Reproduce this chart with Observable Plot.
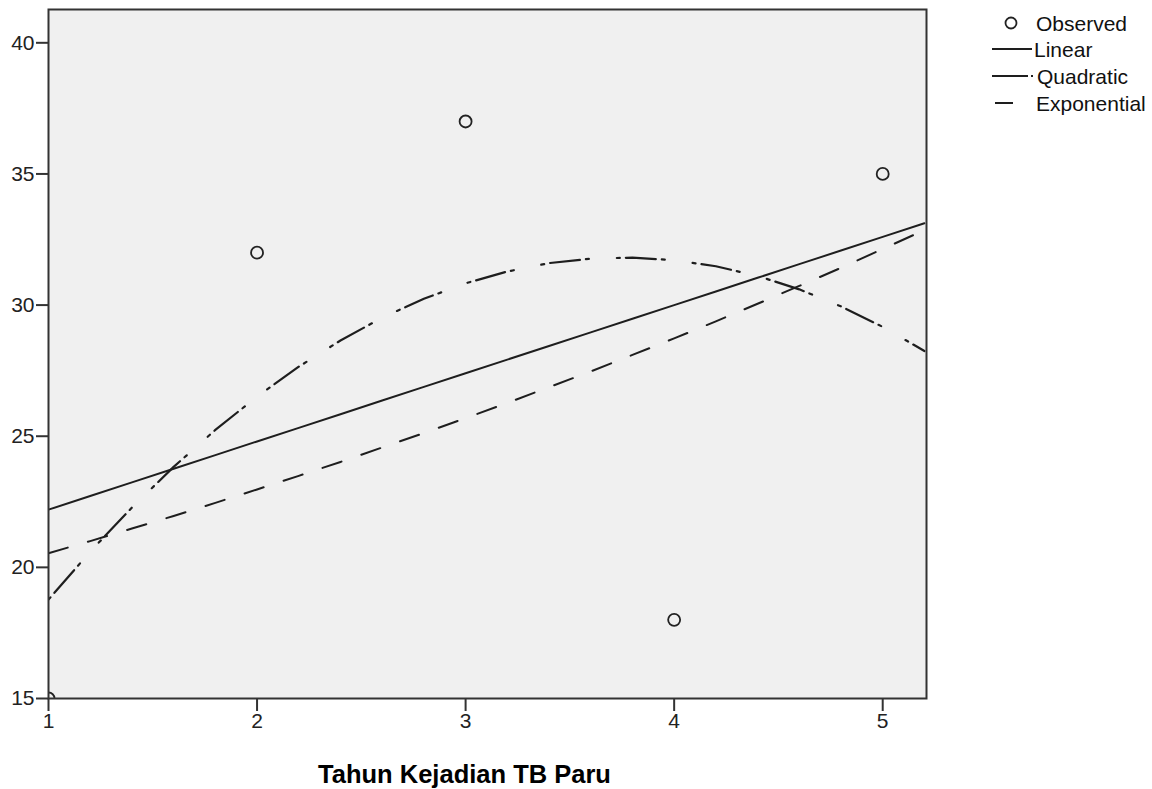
<!DOCTYPE html>
<html>
<head>
<meta charset="utf-8">
<script src="https://cdn.jsdelivr.net/npm/d3@7"></script>
<script src="https://cdn.jsdelivr.net/npm/@observablehq/plot@0.6"></script>
<style>
  html, body { margin: 0; padding: 0; background: #fff; }
  #wrap { position: relative; width: 1152px; height: 789px; }
  #legend { position: absolute; left: 0; top: 0; }
</style>
</head>
<body>
<div id="wrap"></div>
<script>
// Observed data
const xObserved = [1, 2, 3, 4, 5];
const yObserved = [15, 32, 37, 18, 35];

// Fitted curves (values read at x steps of 0.2)
const xFit = [1.0, 1.2, 1.4, 1.6, 1.8, 2.0, 2.2, 2.4, 2.6, 2.8, 3.0, 3.2, 3.4, 3.6, 3.8, 4.0, 4.2, 4.4, 4.6, 4.8, 5.0, 5.2];
const yLinear = [22.2, 22.72, 23.24, 23.76, 24.28, 24.8, 25.32, 25.84, 26.36, 26.88, 27.4, 27.92, 28.44, 28.96, 29.48, 30.0, 30.52, 31.04, 31.56, 32.08, 32.6, 33.12];
const yQuadratic = [18.77, 20.60, 22.28, 23.83, 25.24, 26.51, 27.65, 28.65, 29.52, 30.24, 30.83, 31.28, 31.60, 31.77, 31.81, 31.71, 31.48, 31.11, 30.60, 29.95, 29.17, 28.25];
const yExponential = [20.54, 21.00, 21.48, 21.96, 22.46, 22.97, 23.49, 24.02, 24.57, 25.12, 25.69, 26.27, 26.87, 27.47, 28.10, 28.73, 29.38, 30.05, 30.73, 31.42, 32.14, 32.86];

const xTicks = [1, 2, 3, 4, 5];
const yTicks = [15, 20, 25, 30, 35, 40];
const xTitle = "Tahun Kejadian TB Paru";
const legendLabels = ["Observed", "Linear", "Quadratic", "Exponential"];

const observed = xObserved.map((x, i) => ({x, y: yObserved[i]}));
const fit = xFit.map((x, i) => ({x, lin: yLinear[i], quad: yQuadratic[i], exp: yExponential[i]}));

const ink = "#1e1e1e";

const chart = Plot.plot({
  width: 1152,
  height: 789,
  marginLeft: 48,
  marginRight: 226,
  marginTop: 9,
  marginBottom: 91,
  style: {fontFamily: "'Liberation Sans', Arial, sans-serif", fontSize: "21px", color: "#222", background: "white"},
  x: {domain: [1, 5.21]},
  y: {domain: [15, 41.27]},
  marks: [
    Plot.frame({fill: "#f0f0f0", stroke: null}),
    Plot.line(fit, {x: "x", y: "lin", stroke: ink, strokeWidth: 2, clip: true}),
    Plot.line(fit, {x: "x", y: "quad", stroke: ink, strokeWidth: 2.2, strokeDasharray: "3,6,30,6,3,28", clip: true}),
    Plot.line(fit, {x: "x", y: "exp", stroke: ink, strokeWidth: 2, strokeDasharray: "20,21", clip: true}),
    Plot.dot(observed, {x: "x", y: "y", r: 6, stroke: "#222", strokeWidth: 1.8, fill: "none", clip: true}),
    Plot.frame({stroke: "#333", strokeWidth: 2}),
    Plot.axisY({ticks: yTicks, tickFormat: "d", tickSize: 12, tickPadding: 2, label: null, stroke: "#333", strokeWidth: 2}),
    Plot.axisX({ticks: xTicks, tickFormat: "d", tickSize: 13, tickPadding: 2, label: null, stroke: "#333", strokeWidth: 2}),
    Plot.text([xTitle], {frameAnchor: "bottom", lineAnchor: "middle", dy: 76, dx: -23, fontSize: 25.5, fontWeight: "bold", fill: "#000"})
  ]
});

const wrap = document.getElementById("wrap");
wrap.appendChild(chart);

// Legend (outside the plot area, top right)
const ns = "http://www.w3.org/2000/svg";
const leg = document.createElementNS(ns, "svg");
leg.setAttribute("id", "legend");
leg.setAttribute("width", 1152);
leg.setAttribute("height", 130);
leg.setAttribute("font-family", "'Liberation Sans', Arial, sans-serif");
leg.setAttribute("font-size", "21");
function el(tag, attrs, text) {
  const e = document.createElementNS(ns, tag);
  for (const k in attrs) e.setAttribute(k, attrs[k]);
  if (text) e.textContent = text;
  leg.appendChild(e);
  return e;
}
el("circle", {cx: 1011, cy: 23, r: 5.5, fill: "none", stroke: "#222", "stroke-width": 1.8});
el("line", {x1: 992, x2: 1032, y1: 49, y2: 49, stroke: ink, "stroke-width": 2});
el("line", {x1: 992, x2: 1028, y1: 76, y2: 76, stroke: ink, "stroke-width": 2});
el("line", {x1: 1031, x2: 1033, y1: 76, y2: 76, stroke: ink, "stroke-width": 2});
el("line", {x1: 995, x2: 1013, y1: 103, y2: 103, stroke: ink, "stroke-width": 2});
const ys = [23, 49, 76, 103];
const xs = [1036, 1034, 1037, 1036];
legendLabels.forEach((t, i) => el("text", {x: xs[i], y: ys[i], "dominant-baseline": "central", fill: "#111"}, t));
wrap.appendChild(leg);
</script>
</body>
</html>
